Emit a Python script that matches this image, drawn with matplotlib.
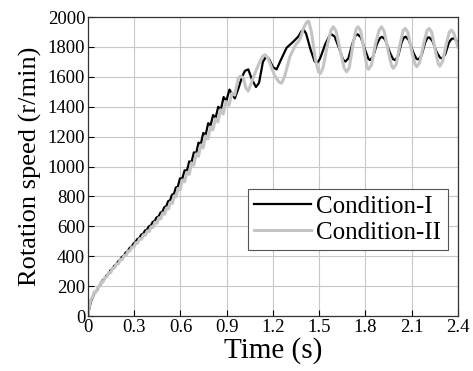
#!/usr/bin/env python3
"""Rotation speed response under two operating conditions."""

import matplotlib

matplotlib.use("Agg")
import matplotlib.pyplot as plt

# Condition-I (black): time (s), speed (r/min)
T_COND1 = [
    0.000, 0.010, 0.020, 0.032, 0.045, 0.058, 0.070, 0.082, 0.095, 0.108,
    0.120, 0.133, 0.145, 0.158, 0.170, 0.183, 0.195, 0.208, 0.220, 0.233,
    0.245, 0.258, 0.270, 0.283, 0.295, 0.308, 0.320, 0.333, 0.345, 0.358,
    0.370, 0.383, 0.395, 0.408, 0.420, 0.433, 0.445, 0.458, 0.470, 0.483,
    0.495, 0.508, 0.520, 0.533, 0.545, 0.558, 0.570, 0.583, 0.597, 0.612,
    0.627, 0.642, 0.657, 0.672, 0.687, 0.702, 0.717, 0.732, 0.748, 0.763,
    0.780, 0.795, 0.812, 0.828, 0.845, 0.862, 0.880, 0.898, 0.918, 0.953,
    0.975, 1.000, 1.018, 1.040, 1.065, 1.090, 1.110, 1.135, 1.155, 1.175,
    1.200, 1.224, 1.250, 1.289, 1.332, 1.365, 1.385, 1.400, 1.415, 1.445,
    1.470, 1.485, 1.505, 1.540, 1.565, 1.580, 1.600, 1.630, 1.655, 1.670,
    1.690, 1.715, 1.735, 1.750, 1.770, 1.800, 1.820, 1.830, 1.850, 1.875,
    1.895, 1.908, 1.928, 1.960, 1.980, 1.993, 2.013, 2.035, 2.050, 2.062,
    2.082, 2.112, 2.132, 2.145, 2.165, 2.188, 2.203, 2.215, 2.235, 2.265,
    2.285, 2.297, 2.318, 2.342, 2.360, 2.375, 2.390, 2.400,
]
SPEED_COND1 = [
    0, 58, 100, 128, 160, 170, 198, 212, 240, 250,
    272, 282, 305, 315, 335, 345, 365, 375, 395, 405,
    425, 435, 455, 465, 485, 495, 515, 522, 545, 550,
    572, 578, 600, 606, 630, 636, 660, 666, 692, 698,
    728, 735, 768, 775, 812, 818, 860, 865, 921, 920,
    975, 972, 1035, 1030, 1095, 1090, 1160, 1150, 1225, 1210,
    1290, 1275, 1345, 1325, 1400, 1380, 1465, 1440, 1515, 1456,
    1520, 1600, 1640, 1650, 1580, 1532, 1560, 1700, 1735, 1720,
    1665, 1650, 1710, 1795, 1835, 1870, 1905, 1915, 1890, 1780,
    1705, 1690, 1720, 1820, 1870, 1885, 1870, 1790, 1715, 1702,
    1725, 1820, 1875, 1885, 1865, 1775, 1720, 1712, 1735, 1820,
    1860, 1868, 1850, 1760, 1718, 1712, 1740, 1830, 1864, 1868,
    1845, 1760, 1720, 1717, 1745, 1830, 1862, 1864, 1840, 1760,
    1728, 1724, 1750, 1830, 1855, 1857, 1845, 1830,
]

# Condition-II (grey)
T_COND2 = [
    0.000, 0.008, 0.018, 0.030, 0.040, 0.052, 0.063, 0.075, 0.086, 0.098,
    0.110, 0.122, 0.135, 0.148, 0.160, 0.172, 0.185, 0.198, 0.210, 0.222,
    0.235, 0.248, 0.260, 0.272, 0.285, 0.298, 0.310, 0.322, 0.335, 0.348,
    0.360, 0.372, 0.385, 0.398, 0.410, 0.422, 0.435, 0.448, 0.460, 0.472,
    0.485, 0.498, 0.510, 0.522, 0.535, 0.548, 0.560, 0.572, 0.585, 0.598,
    0.612, 0.627, 0.642, 0.657, 0.672, 0.687, 0.702, 0.717, 0.732, 0.747,
    0.763, 0.778, 0.795, 0.810, 0.827, 0.843, 0.860, 0.877, 0.895, 0.915,
    0.935, 0.952, 0.975, 0.990, 1.007, 1.025, 1.040, 1.060, 1.083, 1.110,
    1.135, 1.150, 1.170, 1.210, 1.240, 1.256, 1.275, 1.310, 1.345, 1.375,
    1.400, 1.420, 1.432, 1.450, 1.475, 1.495, 1.508, 1.525, 1.555, 1.578,
    1.592, 1.610, 1.640, 1.662, 1.678, 1.695, 1.720, 1.740, 1.753, 1.770,
    1.795, 1.810, 1.820, 1.840, 1.865, 1.890, 1.905, 1.922, 1.950, 1.970,
    1.982, 2.000, 2.025, 2.045, 2.058, 2.075, 2.103, 2.122, 2.133, 2.152,
    2.180, 2.200, 2.213, 2.230, 2.255, 2.272, 2.283, 2.300, 2.325, 2.345,
    2.358, 2.375, 2.400,
]
SPEED_COND2 = [
    0, 62, 108, 128, 162, 160, 190, 202, 230, 230,
    258, 262, 292, 292, 322, 322, 350, 350, 378, 378,
    406, 406, 436, 435, 462, 462, 490, 488, 518, 514,
    544, 540, 570, 566, 598, 593, 628, 621, 658, 650,
    690, 682, 724, 716, 762, 754, 805, 797, 855, 845,
    910, 898, 962, 948, 1025, 1008, 1085, 1068, 1145, 1125,
    1205, 1185, 1265, 1245, 1320, 1298, 1380, 1352, 1435, 1410,
    1492, 1478, 1590, 1605, 1595, 1525, 1505, 1560, 1623, 1690,
    1740, 1748, 1720, 1610, 1565, 1558, 1600, 1735, 1810, 1850,
    1930, 1968, 1972, 1900, 1720, 1635, 1623, 1660, 1820, 1915,
    1935, 1905, 1760, 1660, 1634, 1660, 1820, 1920, 1935, 1905,
    1760, 1670, 1650, 1680, 1820, 1915, 1935, 1905, 1760, 1675,
    1657, 1685, 1820, 1910, 1924, 1900, 1760, 1685, 1668, 1695,
    1830, 1910, 1924, 1900, 1770, 1690, 1672, 1700, 1820, 1900,
    1913, 1890, 1800,
]

X_TICKS = [0, 0.3, 0.6, 0.9, 1.2, 1.5, 1.8, 2.1, 2.4]
X_TICK_LABELS = ["0", "0.3", "0.6", "0.9", "1.2", "1.5", "1.8", "2.1", "2.4"]
Y_TICKS = [0, 200, 400, 600, 800, 1000, 1200, 1400, 1600, 1800, 2000]


def main() -> None:
    plt.rcParams["font.family"] = ["Liberation Serif", "DejaVu Serif"]
    fig = plt.figure(figsize=(4.73, 3.71), dpi=100)
    ax = fig.add_axes([0.186, 0.148, 0.782, 0.806])

    ax.plot(T_COND1, SPEED_COND1, color="black", linewidth=1.6,
            label="Condition-I", solid_joinstyle="round")
    ax.plot(T_COND2, SPEED_COND2, color="#c4c4c4", linewidth=2.2,
            label="Condition-II", solid_joinstyle="round")

    ax.set_xlim(0, 2.4)
    ax.set_ylim(0, 2000)
    ax.set_xticks(X_TICKS)
    ax.set_xticklabels(X_TICK_LABELS)
    ax.set_yticks(Y_TICKS)
    ax.grid(True, color="#c8c8c8", linewidth=0.8)
    ax.set_axisbelow(True)
    ax.tick_params(direction="in", length=4, labelsize=13.5, width=0.8,
                   pad=2)
    for spine in ax.spines.values():
        spine.set_color("#333333")
        spine.set_linewidth(0.9)

    ax.set_xlabel("Time (s)", fontsize=21, labelpad=1)
    ax.set_ylabel("Rotation speed (r/min)", fontsize=19, labelpad=4)

    leg = ax.legend(
        loc="upper right",
        bbox_to_anchor=(0.972, 0.425),
        borderaxespad=0,
        fontsize=18,
        handlelength=2.3,
        handletextpad=0.2,
        labelspacing=0.15,
        borderpad=0.25,
        fancybox=False,
        framealpha=1,
    )
    leg.get_frame().set_edgecolor("#555555")
    leg.get_frame().set_linewidth(0.8)

    fig.savefig("out.png", dpi=100)
    plt.close(fig)


if __name__ == "__main__":
    main()
